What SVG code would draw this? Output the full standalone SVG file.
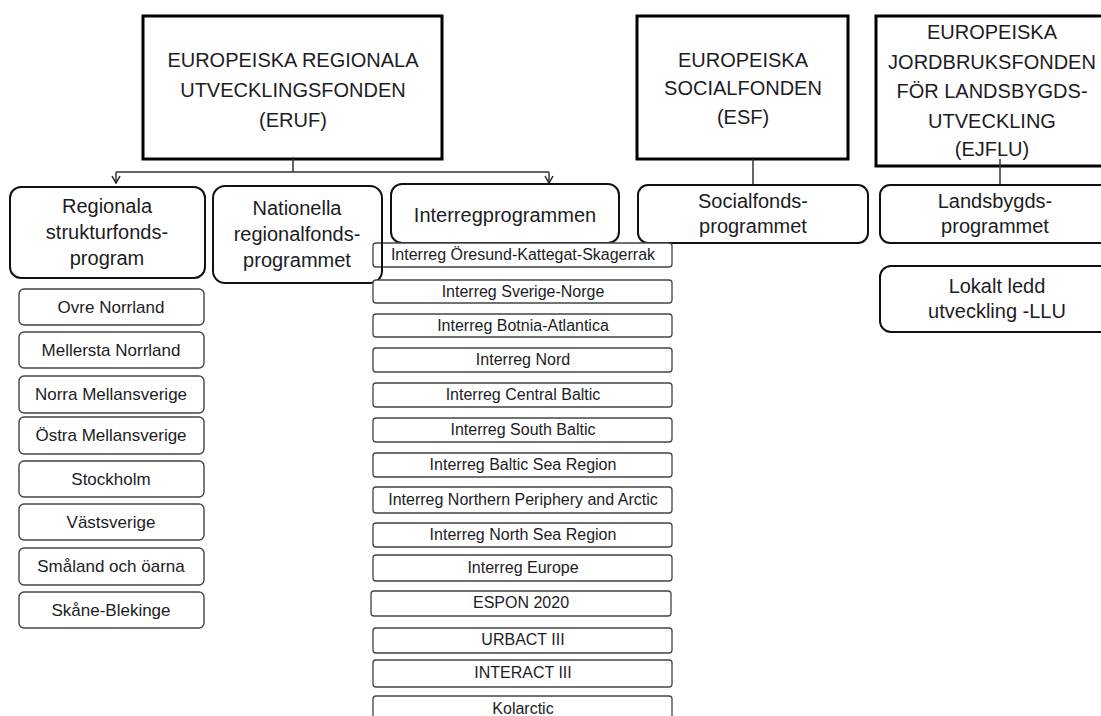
<svg xmlns="http://www.w3.org/2000/svg" width="1101" height="716" viewBox="0 0 1101 716">
<defs>
<style>
text{font-family:"Liberation Sans",Arial,sans-serif;fill:#1c1c24;text-anchor:middle}
.big{fill:#fff;stroke:#000;stroke-width:3}
.bt{font-size:20px}
.mid{fill:#fff;stroke:#111;stroke-width:2}
.mt{font-size:20px}
.reg{fill:#fff;stroke:#444;stroke-width:1.4}
.rt{font-size:17px}
.ir{fill:#fff;stroke:#444;stroke-width:1.3}
.it{font-size:16px}
.con{fill:none;stroke:#333;stroke-width:1.5}
</style>
<marker id="arr" viewBox="0 0 10 10" refX="5" refY="9" markerWidth="10" markerHeight="10" markerUnits="userSpaceOnUse" orient="0">
<path d="M1,2 L5,9 L9,2" fill="none" stroke="#222" stroke-width="1.5"/>
</marker>
</defs>
<rect width="1101" height="716" fill="#fff"/>

<g id="eruf"><rect class="big" x="143" y="16" width="299" height="143"/>
<text class="bt" x="293" y="67">EUROPEISKA REGIONALA</text>
<text class="bt" x="293" y="97">UTVECKLINGSFONDEN</text>
<text class="bt" x="293" y="127">(ERUF)</text></g>

<g id="esf"><rect class="big" x="637" y="16" width="211" height="143"/>
<text class="bt" x="743" y="67">EUROPEISKA</text>
<text class="bt" x="743" y="95">SOCIALFONDEN</text>
<text class="bt" x="743" y="124">(ESF)</text></g>

<g id="ejflu"><rect class="big" x="876" y="16" width="240" height="150"/>
<text class="bt" x="992" y="39">EUROPEISKA</text>
<text class="bt" x="992" y="69">JORDBRUKSFONDEN</text>
<text class="bt" x="992" y="98">FÖR LANDSBYGDS-</text>
<text class="bt" x="992" y="128">UTVECKLING</text>
<text class="bt" x="992" y="156">(EJFLU)</text></g>

<g id="connectors">
<path class="con" d="M293,159 V172 M116,172 H549"/>
<path class="con" d="M116,172 V183" marker-end="url(#arr)"/>
<path class="con" d="M549,172 V183" marker-end="url(#arr)"/>
<path class="con" d="M753,159 V185"/>
<path class="con" d="M1000,159 V185"/>
</g>

<g id="regionala"><rect class="mid" x="10" y="187" width="195" height="91" rx="11"/>
<text class="mt" x="107" y="213">Regionala</text>
<text class="mt" x="107" y="239">strukturfonds-</text>
<text class="mt" x="107" y="265">program</text></g>

<g id="interreg"><rect class="mid" x="391" y="184" width="228" height="59" rx="11"/>
<text class="mt" x="505" y="222">Interregprogrammen</text></g>

<g id="socialfonds"><rect class="mid" x="638" y="185" width="230" height="58" rx="10"/>
<text class="mt" x="753" y="208">Socialfonds-</text>
<text class="mt" x="753" y="233">programmet</text></g>

<g id="landsbygds"><rect class="mid" x="880" y="185" width="240" height="58" rx="10"/>
<text class="mt" x="995" y="208">Landsbygds-</text>
<text class="mt" x="995" y="233">programmet</text></g>

<g id="llu"><rect class="mid" x="880" y="266" width="240" height="66" rx="11"/>
<text class="mt" x="997" y="293">Lokalt ledd</text>
<text class="mt" x="997" y="318">utveckling -LLU</text></g>

<g id="r1"><rect class="reg" x="19" y="289" width="185" height="36" rx="5"/><text class="rt" x="111" y="313">Ovre Norrland</text></g>
<g id="r2"><rect class="reg" x="19" y="332" width="185" height="36" rx="5"/><text class="rt" x="111" y="356">Mellersta Norrland</text></g>
<g id="r3"><rect class="reg" x="19" y="376" width="185" height="37" rx="5"/><text class="rt" x="111" y="400">Norra Mellansverige</text></g>
<g id="r4"><rect class="reg" x="19" y="417" width="185" height="37" rx="5"/><text class="rt" x="111" y="441">Östra Mellansverige</text></g>
<g id="r5"><rect class="reg" x="19" y="461" width="185" height="36" rx="5"/><text class="rt" x="111" y="485">Stockholm</text></g>
<g id="r6"><rect class="reg" x="19" y="504" width="185" height="36" rx="5"/><text class="rt" x="111" y="528">Västsverige</text></g>
<g id="r7"><rect class="reg" x="19" y="548" width="185" height="37" rx="5"/><text class="rt" x="111" y="572">Småland och öarna</text></g>
<g id="r8"><rect class="reg" x="19" y="592" width="185" height="36" rx="5"/><text class="rt" x="111" y="616">Skåne-Blekinge</text></g>

<g id="i1"><rect class="ir" x="373" y="243" width="299" height="24" rx="3"/><text class="it" x="523" y="260">Interreg Öresund-Kattegat-Skagerrak</text></g>
<g id="nationella"><rect fill="none" stroke="#111" stroke-width="2" x="213" y="186" width="169" height="97" rx="12"/>
<text class="mt" x="297" y="215">Nationella</text>
<text class="mt" x="297" y="241">regionalfonds-</text>
<text class="mt" x="297" y="267">programmet</text></g>
<g id="i2"><rect class="ir" x="373" y="280" width="299" height="23" rx="3"/><text class="it" x="523" y="297">Interreg Sverige-Norge</text></g>
<g id="i3"><rect class="ir" x="373" y="314" width="299" height="23" rx="3"/><text class="it" x="523" y="331">Interreg Botnia-Atlantica</text></g>
<g id="i4"><rect class="ir" x="373" y="348" width="299" height="24" rx="3"/><text class="it" x="523" y="365">Interreg Nord</text></g>
<g id="i5"><rect class="ir" x="373" y="383" width="299" height="24" rx="3"/><text class="it" x="523" y="400">Interreg Central Baltic</text></g>
<g id="i6"><rect class="ir" x="373" y="418" width="299" height="24" rx="3"/><text class="it" x="523" y="435">Interreg South Baltic</text></g>
<g id="i7"><rect class="ir" x="373" y="453" width="299" height="24" rx="3"/><text class="it" x="523" y="470">Interreg Baltic Sea Region</text></g>
<g id="i8"><rect class="ir" x="373" y="487" width="299" height="26" rx="3"/><text class="it" x="523" y="505">Interreg Northern Periphery and Arctic</text></g>
<g id="i9"><rect class="ir" x="373" y="523" width="299" height="24" rx="3"/><text class="it" x="523" y="540">Interreg North Sea Region</text></g>
<g id="i10"><rect class="ir" x="373" y="555" width="299" height="26" rx="3"/><text class="it" x="523" y="573">Interreg Europe</text></g>
<g id="i11"><rect class="ir" x="371" y="591" width="300" height="25" rx="3"/><text class="it" x="521" y="608">ESPON 2020</text></g>
<g id="i12"><rect class="ir" x="373" y="628" width="299" height="25" rx="3"/><text class="it" x="523" y="645">URBACT III</text></g>
<g id="i13"><rect class="ir" x="373" y="660" width="299" height="27" rx="3"/><text class="it" x="523" y="678">INTERACT III</text></g>
<g id="i14"><rect class="ir" x="373" y="696" width="299" height="30" rx="3"/><text class="it" x="523" y="714">Kolarctic</text></g>
</svg>
